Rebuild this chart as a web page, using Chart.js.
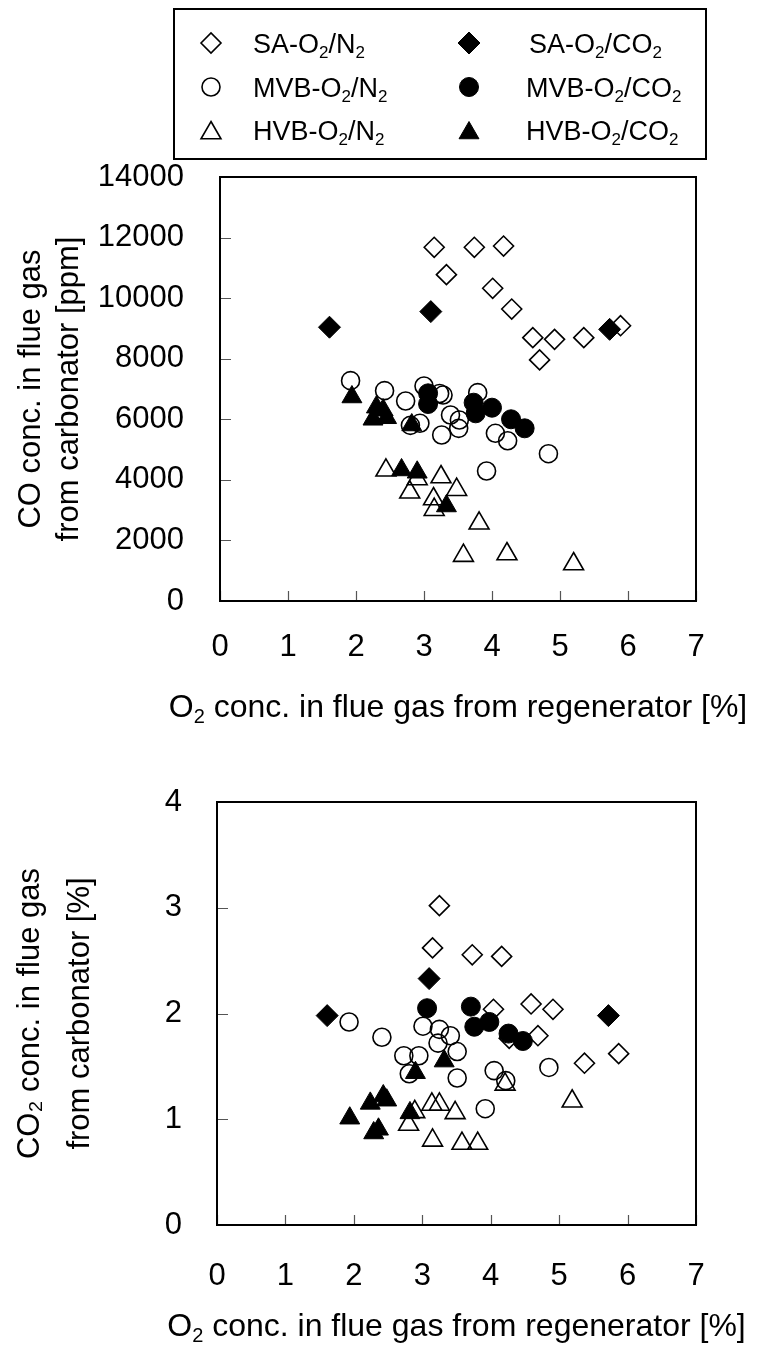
<!DOCTYPE html>
<html>
<head>
<meta charset="utf-8">
<script src="https://cdn.jsdelivr.net/npm/chart.js@4.4.1/dist/chart.umd.min.js"></script>
<style>
html,body{margin:0;padding:0;background:#fff;}
#wrap{position:relative;width:759px;height:1351px;overflow:hidden;background:#fff;}
canvas{position:absolute;left:0;}
#c1{top:0;}
#c2{top:741px;}
</style>
</head>
<body>
<div id="wrap">
<canvas id="c1" width="759" height="741"></canvas>
<canvas id="c2" width="759" height="610"></canvas>
</div>
<script>
// ---------- tick labels ----------
const xTicks = [0, 1, 2, 3, 4, 5, 6, 7];
const coTicks = [0, 2000, 4000, 6000, 8000, 10000, 12000, 14000];
const co2Ticks = [0, 1, 2, 3, 4];

// ---------- series names (legend) ----------
const seriesNames = ['SA-O2/N2', 'SA-O2/CO2', 'MVB-O2/N2', 'MVB-O2/CO2', 'HVB-O2/N2', 'HVB-O2/CO2'];

// ---------- top chart: CO conc. [ppm] vs O2 conc. [%] ----------
const coSA_N2 = [[3.15,11680],[3.74,11680],[4.17,11720],[3.33,10775],[4.01,10325],[4.29,9640],[4.60,8695],[4.92,8640],[5.35,8695],[5.89,9090],[4.70,7960]];
const coSA_CO2 = [[1.61,9040],[3.10,9555],[5.73,8970]];
const coMVB_N2 = [[1.92,7275],[2.42,6945],[2.73,6605],[3.00,7100],[3.23,6850],[3.28,6800],[3.79,6880],[3.39,6140],[3.52,5977],[3.51,5700],[2.94,5867],[2.80,5800],[3.26,5480],[4.05,5537],[4.23,5293],[4.83,4864],[3.92,4293]];
const coMVB_CO2 = [[3.06,6857],[3.06,6505],[3.73,6548],[3.76,6197],[4.00,6383],[4.28,6000],[4.48,5702]];
const coHVB_N2 = [[2.44,4315],[2.79,3590],[3.25,4095],[3.48,3675],[3.14,3368],[3.15,3015],[2.90,4030],[3.81,2565],[3.58,1497],[4.22,1552],[5.20,1222]];
const coHVB_CO2 = [[1.94,6736],[2.25,6000],[2.30,6400],[2.40,6300],[2.45,6050],[2.82,5811],[2.67,4326],[2.90,4250],[3.33,3137]];

// ---------- bottom chart: CO2 conc. [%] vs O2 conc. [%] ----------
const co2SA_N2 = [[3.25,3.02],[3.15,2.62],[3.73,2.555],[4.16,2.54],[4.04,2.04],[4.59,2.09],[4.91,2.04],[4.69,1.79],[4.27,1.765],[5.37,1.53],[5.87,1.62]];
const co2SA_CO2 = [[1.61,1.98],[3.10,2.33],[5.72,1.98]];
const co2MVB_N2 = [[1.93,1.92],[2.41,1.775],[3.01,1.88],[3.25,1.85],[3.41,1.79],[3.23,1.72],[2.73,1.60],[2.95,1.60],[2.81,1.43],[3.51,1.64],[3.51,1.39],[4.05,1.46],[4.22,1.365],[4.85,1.49],[3.92,1.10]];
const co2MVB_CO2 = [[3.07,2.05],[3.71,2.065],[3.76,1.875],[3.98,1.92],[4.26,1.81],[4.47,1.74]];
const co2HVB_N2 = [[2.89,1.07],[2.80,0.95],[3.14,1.14],[3.25,1.14],[3.48,1.06],[3.15,0.80],[3.58,0.77],[3.81,0.77],[4.21,1.33],[5.19,1.17]];
const co2HVB_CO2 = [[1.94,1.01],[2.24,1.15],[2.43,1.22],[2.48,1.18],[2.29,0.87],[2.36,0.905],[2.82,1.06],[2.90,1.44],[3.32,1.55]];

// ---------- styling ----------
const FONT = '"Liberation Sans", Arial, sans-serif';
const styles = [
  {pointStyle:'rectRot', radius:10, fill:false, order:3},
  {pointStyle:'rectRot', radius:11, fill:true, order:0},
  {pointStyle:'circle', radius:9, fill:false, order:2},
  {pointStyle:'circle', radius:9.5, fill:true, order:0},
  {pointStyle:'triangle', radius:11.5, fill:false, order:1},
  {pointStyle:'triangle', radius:11.5, fill:true, order:0}
];

function makeDatasets(seriesList){
  return seriesList.map((arr, i) => {
    const s = styles[i];
    return {
      label: seriesNames[i],
      data: arr.map(p => ({x: p[0], y: p[1]})),
      pointStyle: s.pointStyle,
      pointRadius: s.radius,
      pointHoverRadius: s.radius,
      pointBorderWidth: s.fill ? 1 : 1.6,
      pointHoverBorderWidth: s.fill ? 1 : 1.6,
      pointBackgroundColor: s.fill ? '#000' : 'rgba(0,0,0,0)',
      pointBorderColor: '#000',
      showLine: false,
      order: s.order
    };
  });
}

function richWidth(ctx, parts, size){
  let w = 0;
  parts.forEach(p => {
    const fs = p[1] ? Math.round(size * 0.64) : size;
    ctx.font = fs + 'px ' + FONT;
    w += ctx.measureText(p[0]).width;
  });
  return w;
}

function richText(ctx, parts, x, baseline, size){
  let cx = x;
  parts.forEach(p => {
    const sub = p[1];
    const fs = sub ? Math.round(size * 0.64) : size;
    ctx.font = fs + 'px ' + FONT;
    ctx.textBaseline = 'alphabetic';
    ctx.textAlign = 'left';
    ctx.fillText(p[0], cx, baseline + (sub ? size * 0.2 : 0));
    cx += ctx.measureText(p[0]).width;
  });
}

const xTitleParts = [['O',0],['2',1],[' conc. in flue gas from regenerator [%]',0]];

const framePlugin = {
  id: 'frame',
  beforeDatasetsDraw(chart){
    const {ctx, chartArea: a, scales: {x, y}} = chart;
    ctx.save();
    ctx.strokeStyle = '#555';
    ctx.lineWidth = 1.2;
    ctx.beginPath();
    x.ticks.forEach(t => {
      const px = Math.round(x.getPixelForValue(t.value)) + 0.5;
      ctx.moveTo(px, a.bottom); ctx.lineTo(px, a.bottom - 10);
    });
    y.ticks.forEach(t => {
      const py = Math.round(y.getPixelForValue(t.value)) + 0.5;
      ctx.moveTo(a.left, py); ctx.lineTo(a.left + 11, py);
    });
    ctx.stroke();
    ctx.restore();
  },
  afterDraw(chart, args, opts){
    const {ctx, chartArea: a} = chart;
    ctx.save();
    ctx.strokeStyle = '#000';
    ctx.lineWidth = 2;
    ctx.strokeRect(a.left, a.top, a.right - a.left, a.bottom - a.top);
    // x-axis title with true subscript
    const size = 32;
    const w = richWidth(ctx, xTitleParts, size);
    const cx = (a.left + a.right) / 2;
    ctx.fillStyle = '#000';
    richText(ctx, xTitleParts, cx - w / 2, a.bottom + opts.titleOffset, size);
    ctx.restore();
  }
};

function drawMarker(ctx, style, fill, x, y, r){
  ctx.beginPath();
  if (style === 'rectRot'){
    ctx.moveTo(x - r, y); ctx.lineTo(x, y - r); ctx.lineTo(x + r, y); ctx.lineTo(x, y + r); ctx.closePath();
  } else if (style === 'circle'){
    ctx.arc(x, y, r, 0, Math.PI * 2);
  } else {
    const h = Math.sin(Math.PI / 3) * r;
    ctx.moveTo(x, y - r); ctx.lineTo(x + h, y + r / 2); ctx.lineTo(x - h, y + r / 2); ctx.closePath();
  }
  if (fill){ ctx.fillStyle = '#000'; ctx.fill(); ctx.lineWidth = 1; }
  else { ctx.lineWidth = 1.6; }
  ctx.strokeStyle = '#000';
  ctx.stroke();
}

const legendPlugin = {
  id: 'boxLegend',
  afterDraw(chart){
    const ctx = chart.ctx;
    ctx.save();
    ctx.strokeStyle = '#000';
    ctx.lineWidth = 2;
    ctx.strokeRect(174, 9, 532, 150);
    const rows = [43, 87, 130];
    const fs = 27;
    const texts = [
      [['SA-O',0],['2',1],['/N',0],['2',1]],
      [['SA-O',0],['2',1],['/CO',0],['2',1]],
      [['MVB-O',0],['2',1],['/N',0],['2',1]],
      [['MVB-O',0],['2',1],['/CO',0],['2',1]],
      [['HVB-O',0],['2',1],['/N',0],['2',1]],
      [['HVB-O',0],['2',1],['/CO',0],['2',1]]
    ];
    const textX = [253, 529, 253, 526, 253, 526];
    ctx.fillStyle = '#000';
    for (let i = 0; i < 6; i++){
      const row = Math.floor(i / 2), col = i % 2;
      const s = styles[i];
      const mx = col === 0 ? 211 : 469;
      const my = rows[row] + (s.pointStyle === 'triangle' ? 3 : 0);
      drawMarker(ctx, s.pointStyle, s.fill, mx, my, s.radius);
      ctx.fillStyle = '#000';
      richText(ctx, texts[i], textX[i], rows[row] + 9.5, fs);
    }
    ctx.restore();
  }
};

function axisFont(size){ return {family: FONT, size: size, weight: 'normal'}; }

function makeChart(canvasId, seriesList, yTicks, yMax, yTitle, geo, extraPlugins){
  return new Chart(document.getElementById(canvasId), {
    type: 'scatter',
    data: {datasets: makeDatasets(seriesList)},
    options: {
      responsive: false,
      animation: false,
      events: [],
      devicePixelRatio: 1,
      layout: {padding: {left: 0, right: geo.right, top: geo.top, bottom: 0}},
      plugins: {
        legend: {display: false}, tooltip: {enabled: false}, title: {display: false},
        frame: {titleOffset: geo.xTitleBase}
      },
      scales: {
        x: {
          type: 'linear', position: 'bottom', min: 0, max: 7,
          afterBuildTicks: s => { s.ticks = xTicks.map(v => ({value: v})); },
          afterFit: s => { s.height = geo.xH; },
          grid: {display: false, drawTicks: false},
          border: {display: false},
          ticks: {padding: geo.xPad, color: '#000', font: axisFont(31), autoSkip: false, maxRotation: 0, callback: v => String(v)},
          title: {display: false}
        },
        y: {
          type: 'linear', position: 'left', min: 0, max: yMax,
          afterBuildTicks: s => { s.ticks = yTicks.map(v => ({value: v})); },
          afterFit: s => { s.width = geo.yW; },
          grid: {display: false, drawTicks: false},
          border: {display: false},
          ticks: {padding: geo.yPad, color: '#000', font: axisFont(31), autoSkip: false, callback: v => String(v)},
          title: {display: true, text: yTitle, color: '#000', font: {family: FONT, size: 31, lineHeight: geo.yTitleLH}, padding: {top: geo.yTitlePad, bottom: 0}}
        }
      }
    },
    plugins: [framePlugin].concat(extraPlugins)
  });
}

makeChart('c1', [coSA_N2, coSA_CO2, coMVB_N2, coMVB_CO2, coHVB_N2, coHVB_CO2], coTicks, 14000,
  ['CO conc. in flue gas', 'from carbonator [ppm]'],
  {right: 63, top: 177, xH: 140, yW: 220, xPad: 28, yPad: 36, xTitleBase: 116, yTitleLH: 1.235, yTitlePad: 12},
  [legendPlugin]);

makeChart('c2', [co2SA_N2, co2SA_CO2, co2MVB_N2, co2MVB_CO2, co2HVB_N2, co2HVB_CO2], co2Ticks, 4,
  ['CO\u2082 conc. in flue gas', 'from carbonator [%]'],
  {right: 63, top: 61, xH: 126, yW: 217, xPad: 33, yPad: 35, xTitleBase: 111, yTitleLH: 1.6, yTitlePad: 6},
  []);
</script>
</body>
</html>
